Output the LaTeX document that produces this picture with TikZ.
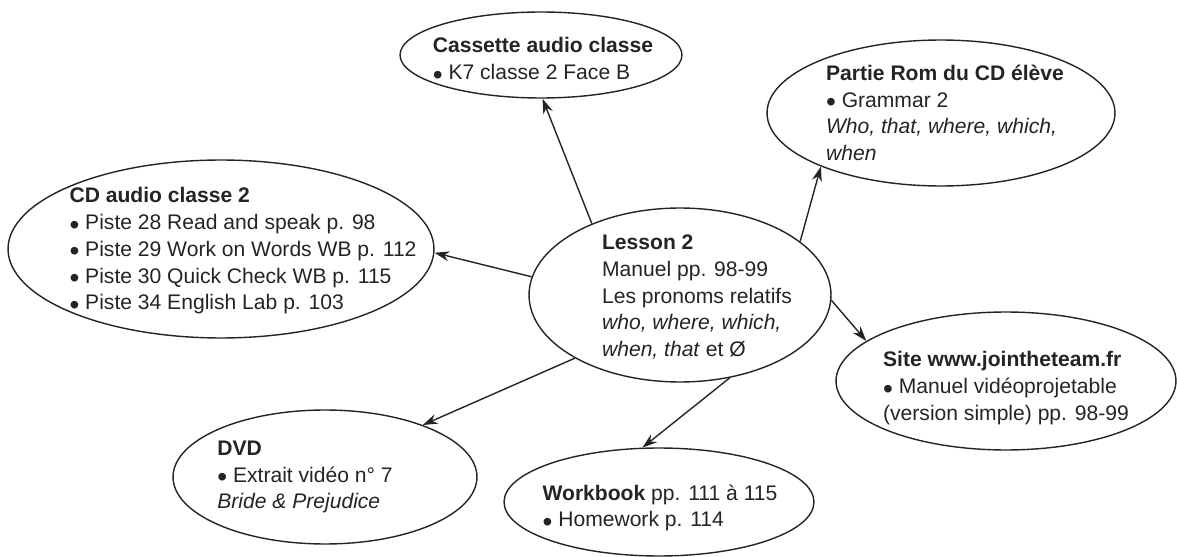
\documentclass[tikz,border=0pt]{standalone}
\usepackage{fontspec}
\setmainfont{Liberation Sans}
\usepackage{tikz}
\usetikzlibrary{arrows.meta,shapes.geometric}
\definecolor{inkgray}{RGB}{38,35,36}
\newcommand{\puce}{\raisebox{-2.6pt}{\fontsize{16}{16}\selectfont\textbullet}\ }

\begin{document}
\begin{tikzpicture}[
  x=0.02cm, y=-0.02cm,
  >={Stealth[length=3mm,width=2mm,inset=1mm]},
  bubble/.style={draw=inkgray, ellipse, line width=0.8pt, inner sep=0pt},
  every label/.style={font=\fontsize{12}{15.2}\selectfont, align=left, text=inkgray, inner sep=0pt},
  link/.style={->, draw=inkgray, line width=0.8pt}
]
\useasboundingbox (0,0) rectangle (1177,557);

% --- Noeud central ---
\node[bubble, minimum width=6.04cm, minimum height=3.48cm,
  label={[xshift=0.34cm,yshift=-0.04cm]center:{\textbf{Lesson 2}\\Manuel pp. 98-99\\Les pronoms relatifs\\\textit{who, where, which,}\\\textit{when, that} et Ø}}
] (lesson) at (680,295) {};

% --- Supports autour ---
\node[bubble, minimum width=5.64cm, minimum height=1.72cm,
  label={[xshift=0.04cm,yshift=-0.12cm]center:{\textbf{Cassette audio classe}\\\puce K7 classe 2 Face B}}
] (cassette) at (541,55) {};

\node[bubble, minimum width=6.96cm, minimum height=2.92cm,
  label={[xshift=0.08cm]center:{\textbf{Partie Rom du CD élève}\\\puce Grammar 2\\\textit{Who, that, where, which,}\\\textit{when}}}
] (rom) at (941,113) {};

\node[bubble, minimum width=8.52cm, minimum height=3.56cm,
  label={[xshift=0.44cm,yshift=-0.04cm]center:{\textbf{CD audio classe 2}\\\puce Piste 28 Read and speak p. 98\\\puce Piste 29 Work on Words WB p. 112\\\puce Piste 30 Quick Check WB p. 115\\\puce Piste 34 English Lab p. 103}}
] (cdaudio) at (221,249) {};

\node[bubble, minimum width=6.8cm, minimum height=2.76cm,
  label={[yshift=-0.14cm]center:{\textbf{Site www.jointheteam.fr}\\\puce Manuel vidéoprojetable\\(version simple) pp. 98-99}}
] (site) at (1006,381) {};

\node[bubble, minimum width=6.08cm, minimum height=2.68cm,
  label={[xshift=-0.4cm]center:{\textbf{DVD}\\\puce Extrait vidéo n° 7\\\textit{Bride \& Prejudice}}}
] (dvd) at (325,477) {};

\node[bubble, minimum width=6.2cm, minimum height=2.16cm,
  label={[xshift=0.02cm,yshift=-0.12cm]center:{\textbf{Workbook} pp. 111 à 115\\\puce Homework p. 114}}
] (workbook) at (659,502) {};

% --- Fleches ---
\draw[link] (lesson.141) -- (cassette.272);
\draw[link] (lesson.24.4) -- (rom.204.7);
\draw[link] (lesson.173.2) -- (cdaudio.-1);
\draw[link] (lesson.-2.6) -- (site.164.9);
\draw[link] (lesson.211.8) -- (dvd.28.2);
\draw[link] (lesson.-59.5) -- (workbook.107.2);

\end{tikzpicture}
\end{document}
